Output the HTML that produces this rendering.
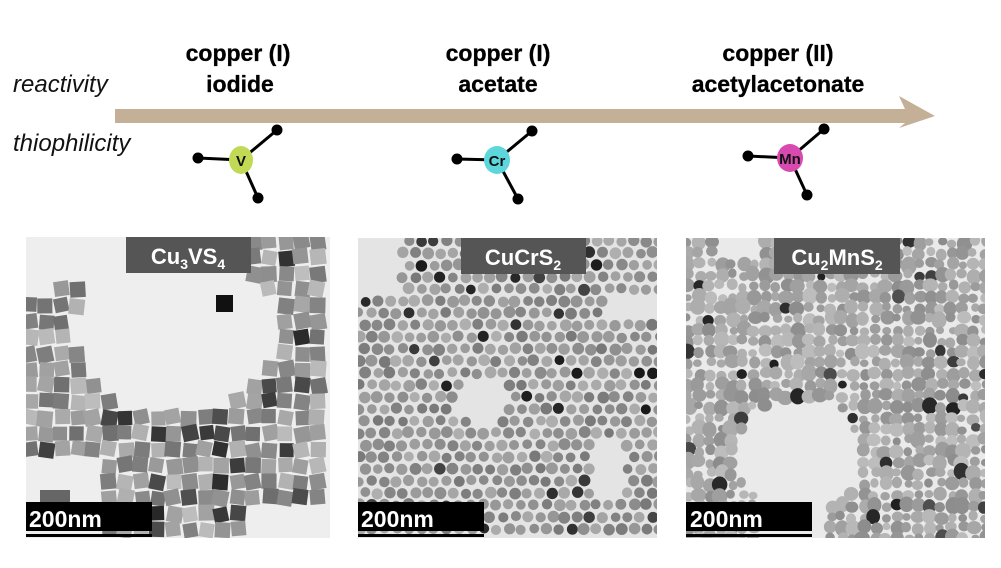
<!DOCTYPE html>
<html><head><meta charset="utf-8"><style>
body{margin:0;width:1001px;height:563px;background:#fff;overflow:hidden;font-family:"Liberation Sans",sans-serif}
</style></head><body>
<svg id="s" width="1001" height="563" viewBox="0 0 1001 563" xmlns="http://www.w3.org/2000/svg" font-family="Liberation Sans, sans-serif">
<defs>
<clipPath id="c1"><rect x="26" y="237" width="304" height="301"/></clipPath>
<clipPath id="c2"><rect x="358" y="238" width="299" height="300"/></clipPath>
<clipPath id="c3"><rect x="686" y="238" width="299" height="300"/></clipPath>
</defs>
<text x="13" y="92" font-size="24" font-style="italic" fill="#111">reactivity</text>
<text x="13" y="151" font-size="24" font-style="italic" fill="#111">thiophilicity</text>
<g font-size="23" font-weight="bold" text-anchor="middle" fill="#000" stroke="#000" stroke-width="0.3">
<text x="238" y="61">copper (I)</text><text x="240" y="92">iodide</text>
<text x="498" y="61">copper (I)</text><text x="498" y="92">acetate</text>
<text x="778" y="61">copper (II)</text><text x="778" y="92">acetylacetonate</text>
</g>
<polygon points="115,109 905,109 899,96 935,116 899,128 905,123 115,123" fill="#c4af97"/>
<g stroke="#000" stroke-width="3">
<line x1="198" y1="158" x2="241" y2="160"/><line x1="277" y1="130" x2="241" y2="160"/><line x1="258" y1="198" x2="241" y2="160"/>
<line x1="457" y1="159" x2="497" y2="160"/><line x1="532" y1="131" x2="497" y2="160"/><line x1="518" y1="199" x2="497" y2="160"/>
<line x1="748" y1="156" x2="790" y2="158"/><line x1="824" y1="129" x2="790" y2="158"/><line x1="807" y1="195" x2="790" y2="158"/>
</g>
<g fill="#000">
<circle cx="198" cy="158" r="5.5"/><circle cx="277" cy="130" r="5.5"/><circle cx="258" cy="198" r="5.5"/>
<circle cx="457" cy="159" r="5.5"/><circle cx="532" cy="131" r="5.5"/><circle cx="518" cy="199" r="5.5"/>
<circle cx="748" cy="156" r="5.5"/><circle cx="824" cy="129" r="5.5"/><circle cx="807" cy="195" r="5.5"/>
</g>
<ellipse cx="241" cy="160" rx="12" ry="14" fill="#c2d955"/>
<ellipse cx="497" cy="160" rx="13" ry="14" fill="#5dd6dc"/>
<ellipse cx="790" cy="158" rx="13" ry="14" fill="#d84aaf"/>
<g font-size="15" font-weight="bold" text-anchor="middle" fill="#111">
<text x="241" y="166">V</text><text x="497" y="166">Cr</text><text x="790" y="164">Mn</text>
</g>
<rect x="26" y="237" width="304" height="301" fill="#eeeeee"/>
<rect x="358" y="238" width="299" height="300" fill="#e4e4e4"/>
<rect x="686" y="238" width="299" height="300" fill="#eaeaea"/>
<g id="p1" clip-path="url(#c1)"></g>
<g id="p2" clip-path="url(#c2)"></g>
<g id="p3" clip-path="url(#c3)"></g>
<g fill="#555">
<rect x="126" y="237" width="125" height="36"/>
<rect x="461" y="238" width="125" height="36"/>
<rect x="774" y="238" width="126" height="36"/>
</g>
<g fill="#fff" font-weight="bold" font-size="22" text-anchor="middle">
<text x="188" y="264">Cu<tspan font-size="14" dy="5">3</tspan><tspan dy="-5">VS</tspan><tspan font-size="14" dy="5">4</tspan></text>
<text x="523" y="265">CuCrS<tspan font-size="14" dy="5">2</tspan></text>
<text x="837" y="265">Cu<tspan font-size="14" dy="5">2</tspan><tspan dy="-5">MnS</tspan><tspan font-size="14" dy="5">2</tspan></text>
</g>
<g fill="#000">
<rect x="26" y="502" width="126" height="29"/><rect x="26" y="534" width="126" height="3"/>
<rect x="358" y="502" width="126" height="29"/><rect x="358" y="534" width="126" height="3"/>
<rect x="686" y="502" width="126" height="29"/><rect x="686" y="534" width="126" height="3"/>
</g>
<g fill="#fff" font-weight="bold" font-size="23">
<text x="29" y="527">200nm</text><text x="361" y="527">200nm</text><text x="690" y="527">200nm</text>
</g>
</svg>
<script>
var seed=7;function r(){seed=(seed*16807)%2147483647;return seed/2147483647;}
var NS="http://www.w3.org/2000/svg";
function add(g,tag,a){var e=document.createElementNS(NS,tag);for(var k in a)e.setAttribute(k,a[k]);g.appendChild(e);}
function gray(lo,hi){var v=Math.round(lo+r()*(hi-lo));return "rgb("+v+","+v+","+v+")";}
var g1=document.getElementById("p1");
function in1(x,y){
 var dx=(x-175)/100,dy=(y-330)/85; if(dx*dx+dy*dy<1)return false;
 if(y<400&&x>95&&x<245)return false;
 if(y>465&&x<95)return false;
 if(y>500&&x>245)return false;
 if(y<280&&x<245)return false;
 if(y<300&&x<60)return false;
 return true;}
for(var y=240;y<540;y+=16){for(var x=28;x<332;x+=16){var cx=x+r()*3,cy=y+r()*3;if(!in1(cx,cy))continue;var s=14+r()*2,a=(r()-0.5)*24;var d=r()<0.1?gray(40,80):gray(110,190);add(g1,"rect",{x:cx-s/2,y:cy-s/2,width:s,height:s,fill:d,transform:"rotate("+a+" "+cx+" "+cy+")"});}}
add(g1,"rect",{x:216,y:295,width:17,height:17,fill:"#111"});
add(g1,"rect",{x:40,y:490,width:30,height:16,fill:"#666"});
var g2=document.getElementById("p2");
function in2(x,y){ if(x<400&&y<290)return false; var dx=(x-480)/25,dy=(y-400)/25; if(dx*dx+dy*dy<1)return false; if(x>605&&y<320&&y>290)return false; if(x>595&&x<625&&y>440&&y<500)return false; return true;}
for(var y=240;y<540;y+=12){var off=(Math.round((y-240)/12)%2)*6;for(var x=358+off;x<660;x+=12.5){var cx=x+r()*2,cy=y+r()*2;if(!in2(cx,cy))continue;var rr=4.8+r()*1.2;var d=r()<0.06?gray(20,70):gray(120,175);add(g2,"circle",{cx:cx,cy:cy,r:rr,fill:d});}}
var g3=document.getElementById("p3");
function in3(x,y){var dx=(x-798)/62,dy=(y-455)/58;if(dx*dx+dy*dy<1)return false;if(x>755&&x<830&&y>480)return false;if(x<760&&x>720&&y<262)return false;return true;}
for(var y=240;y<545;y+=11){for(var x=686;x<990;x+=11){var cx=x+r()*4,cy=y+r()*4;if(!in3(cx,cy))continue;var rr=4+r()*4;var d=r()<0.06?gray(30,80):gray(140,190);add(g3,"ellipse",{cx:cx,cy:cy,rx:rr,ry:rr*(0.85+r()*0.3),fill:d});}}
</script>
</body></html>
